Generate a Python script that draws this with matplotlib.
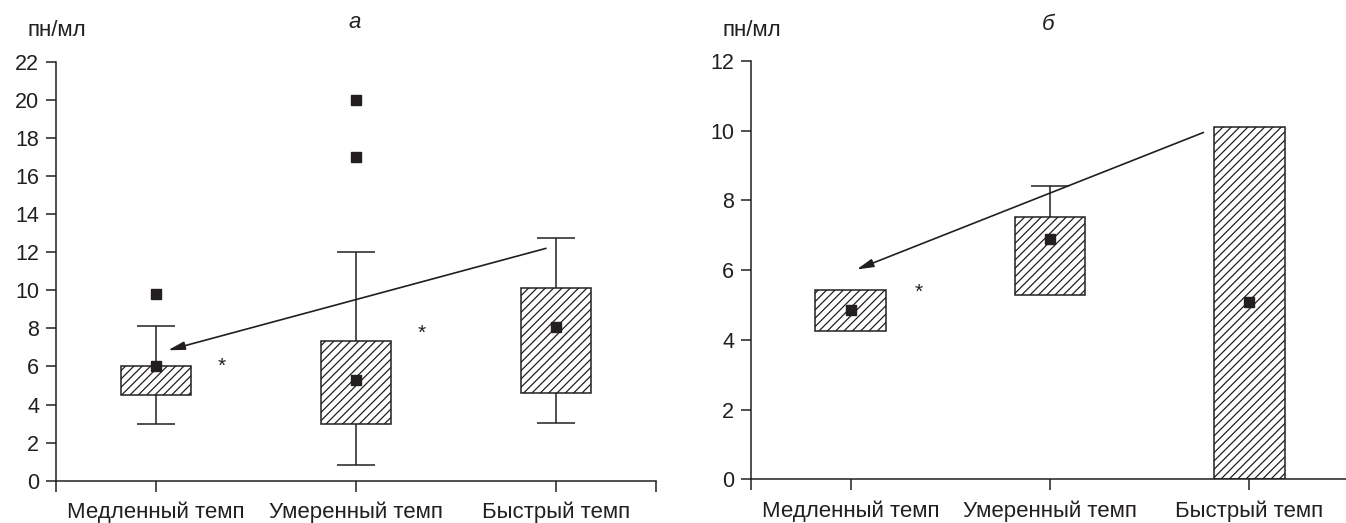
import numpy as np
import matplotlib
matplotlib.use('Agg')
import matplotlib.pyplot as plt
from matplotlib.ticker import FixedLocator

plt.rcParams['font.family'] = ['Liberation Sans', 'DejaVu Sans']
plt.rcParams['hatch.linewidth'] = 0.9

# данные
categories = ['Медленный темп', 'Умеренный темп', 'Быстрый темп']

# панель а
a_q1 = [4.5, 3.0, 4.6]
a_q3 = [6.0, 7.35, 10.1]
a_median = [6.0, 5.3, 8.05]
a_low = [3.0, 0.85, 3.05]
a_high = [8.1, 12.0, 12.75]
a_out_idx = [0, 1, 1]
a_out_val = [9.8, 20.0, 17.0]

# панель б
b_q1 = [4.26, 5.28, 0.0]
b_q3 = [5.43, 7.52, 10.1]
b_median = [4.85, 6.88, 5.08]
b_low = [np.nan, np.nan, np.nan]
b_high = [np.nan, 8.4, np.nan]

ink = '#231f20'
W, H = 1346, 523
fig = plt.figure(figsize=(W / 100, H / 100), dpi=100)

ax_a = fig.add_axes([56 / W, 1 - 480.7 / H, 600 / W, (480.7 - 61.7) / H])
ax_b = fig.add_axes([751 / W, 1 - 479.3 / H, 598 / W, (479.3 - 61) / H])


def draw_panel(ax, q1, q3, med, low, high, ymax):
    x = np.arange(len(categories)) + 0.5
    q1 = np.array(q1); q3 = np.array(q3)
    ax.bar(x, q3 - q1, bottom=q1, width=0.353, facecolor='white',
           edgecolor=ink, linewidth=1.1, hatch='////', zorder=2)
    for xi, lo, hi, a, b in zip(x, low, high, q1, q3):
        if not np.isnan(hi):
            ax.vlines(xi, b, hi, color=ink, lw=1.1, zorder=1)
            ax.hlines(hi, xi - 0.095, xi + 0.095, color=ink, lw=1.1, zorder=1)
        if not np.isnan(lo):
            ax.vlines(xi, lo, a, color=ink, lw=1.1, zorder=1)
            ax.hlines(lo, xi - 0.095, xi + 0.095, color=ink, lw=1.1, zorder=1)
    ax.plot(x, med, 's', color=ink, markersize=7, zorder=4, linestyle='none')

    ax.set_xlim(0, 3)
    ax.set_ylim(0, ymax)
    for s in ['top', 'right']:
        ax.spines[s].set_visible(False)
    for s in ['left', 'bottom']:
        ax.spines[s].set_color(ink)
        ax.spines[s].set_linewidth(1.1)
    ax.set_xticks(x)
    ax.set_xticklabels(categories)
    ax.xaxis.set_minor_locator(FixedLocator([0, 3]))
    ax.tick_params(axis='x', which='both', direction='out', length=8,
                   width=1.1, color=ink, pad=7, labelsize=16, labelcolor=ink)
    ax.tick_params(axis='y', direction='out', length=7.2, width=1.1,
                   color=ink, pad=5, labelsize=15.5, labelcolor=ink)
    for t in ax.get_xticklines() + ax.xaxis.get_minorticklines():
        t.set_clip_on(False)
    return x


xa = draw_panel(ax_a, a_q1, a_q3, a_median, a_low, a_high, 22)
ax_a.set_yticks(np.arange(0, 23, 2))
ax_a.plot(xa[a_out_idx], a_out_val, 's', color=ink, markersize=7, zorder=4)

xb = draw_panel(ax_b, b_q1, b_q3, b_median, b_low, b_high, 12)
ax_b.set_yticks(np.arange(0, 13, 2))

arrow = dict(arrowstyle='-|>,head_length=1.0,head_width=0.25', color=ink,
             lw=1.2, shrinkA=0, shrinkB=0)
ax_a.annotate('', xy=(0.56, 6.85), xytext=(2.45, 12.2), arrowprops=arrow)
ax_b.annotate('', xy=(0.53, 6.02), xytext=(2.27, 9.95), arrowprops=arrow)

ax_a.text(0.83, 6.0, '*', ha='center', va='center', fontsize=15, color=ink)
ax_a.text(1.83, 7.75, '*', ha='center', va='center', fontsize=15, color=ink)
ax_b.text(0.84, 5.37, '*', ha='center', va='center', fontsize=15, color=ink)

fig.text(27 / W, 1 - 31 / H, 'пн/мл', ha='left', va='center', fontsize=16, color=ink)
fig.text(722 / W, 1 - 31 / H, 'пн/мл', ha='left', va='center', fontsize=16, color=ink)
fig.text(355 / W, 1 - 22 / H, 'а', ha='center', va='center', fontsize=16,
         style='italic', color=ink)
fig.text(1048 / W, 1 - 24 / H, 'б', ha='center', va='center', fontsize=16,
         style='italic', color=ink)

fig.savefig('out.png', dpi=100)
